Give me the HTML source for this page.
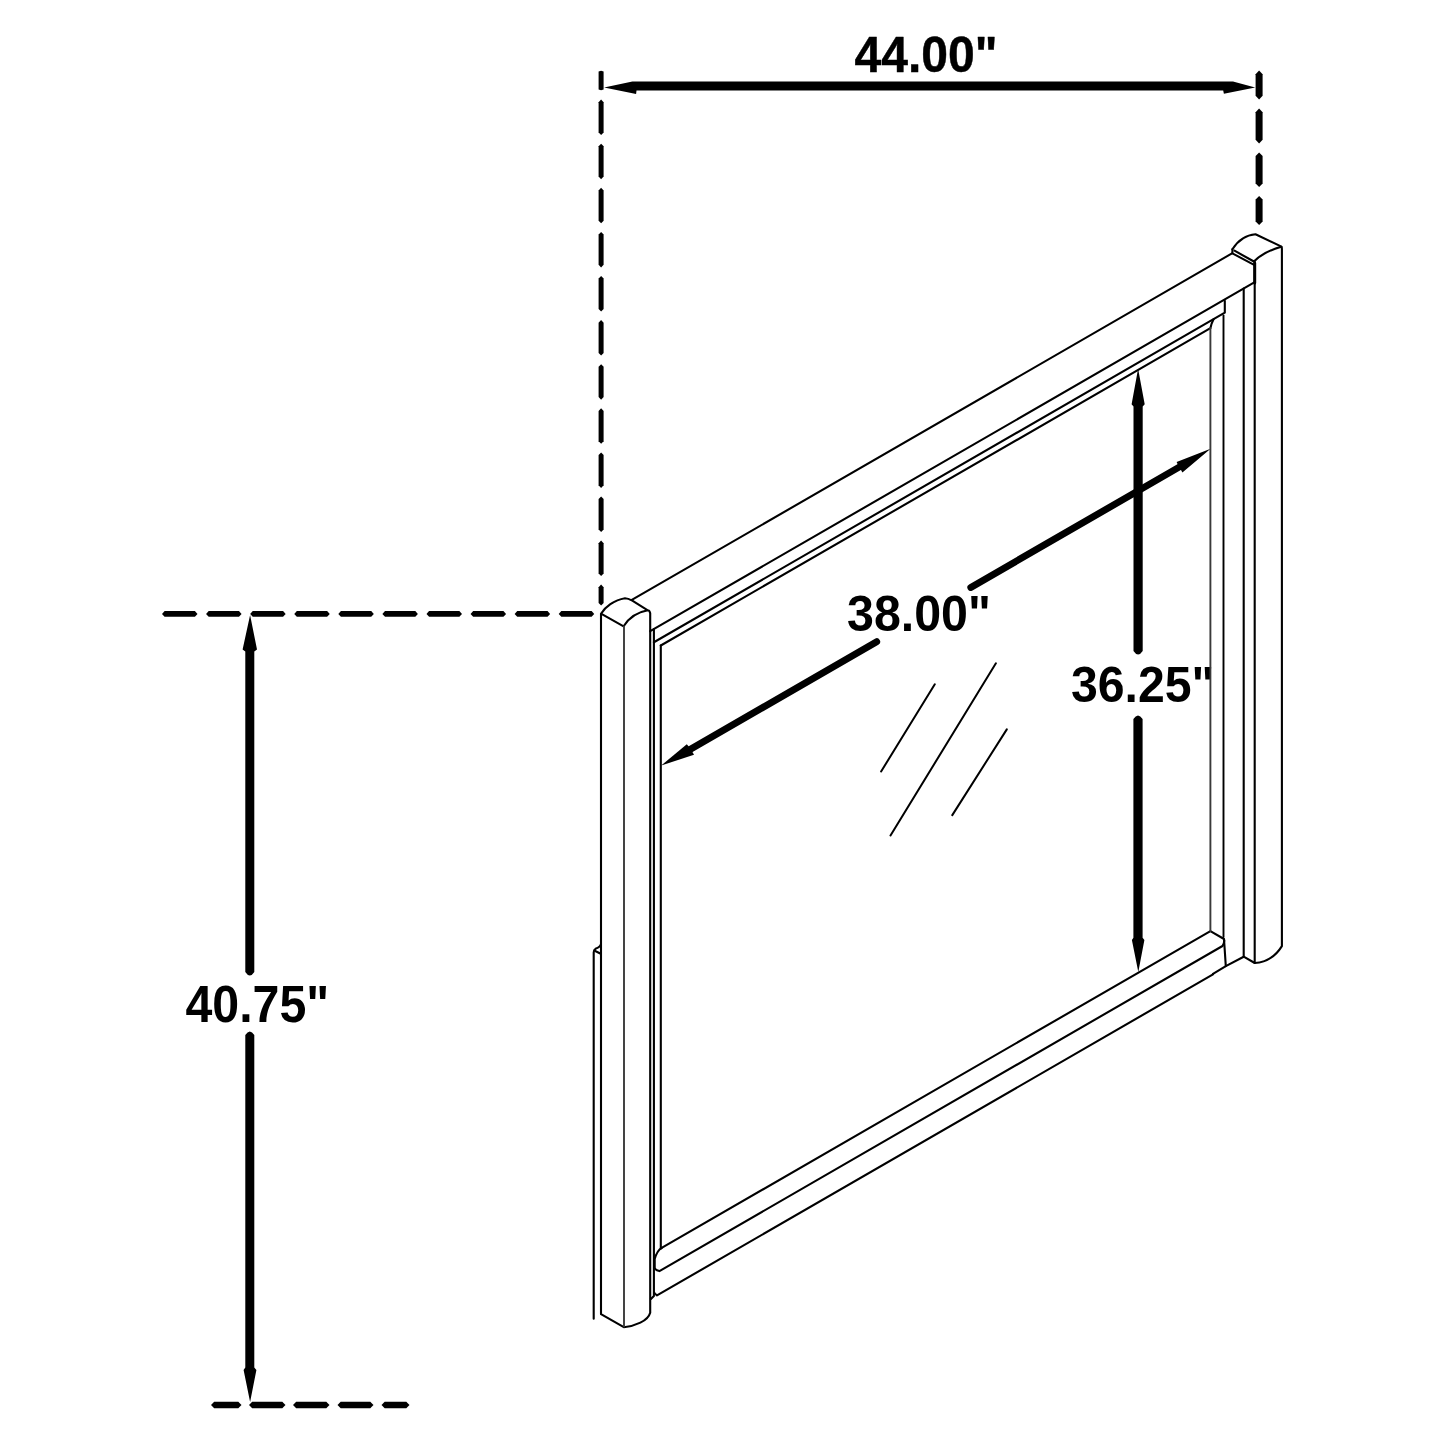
<!DOCTYPE html>
<html><head><meta charset="utf-8">
<style>
html,body{margin:0;padding:0;background:#fff;}
svg{display:block;}
text{font-family:"Liberation Sans",sans-serif;font-weight:bold;}
</style></head>
<body>
<svg width="1445" height="1445" viewBox="0 0 1445 1445">
<rect width="1445" height="1445" fill="#fff"/>
<g fill="#000">
<path d="M601.1,70.8 L603.6,71.6 L603.6,89.5 L601.1,90.3 L598.6,89.5 L598.6,71.6 Z"/>
<path d="M601.1,99.6 L603.6,102.2 L603.6,132.5 L601.1,135.1 L598.6,132.5 L598.6,102.2 Z"/>
<path d="M601.1,143.7 L603.6,146.3 L603.6,176.6 L601.1,179.2 L598.6,176.6 L598.6,146.3 Z"/>
<path d="M601.1,187.8 L603.6,190.4 L603.6,220.7 L601.1,223.3 L598.6,220.7 L598.6,190.4 Z"/>
<path d="M601.1,231.9 L603.6,234.5 L603.6,264.8 L601.1,267.4 L598.6,264.8 L598.6,234.5 Z"/>
<path d="M601.1,276 L603.6,278.6 L603.6,308.9 L601.1,311.5 L598.6,308.9 L598.6,278.6 Z"/>
<path d="M601.1,320.1 L603.6,322.7 L603.6,353 L601.1,355.6 L598.6,353 L598.6,322.7 Z"/>
<path d="M601.1,364.2 L603.6,366.8 L603.6,397.1 L601.1,399.7 L598.6,397.1 L598.6,366.8 Z"/>
<path d="M601.1,408.3 L603.6,410.9 L603.6,441.2 L601.1,443.8 L598.6,441.2 L598.6,410.9 Z"/>
<path d="M601.1,452.4 L603.6,455 L603.6,485.3 L601.1,487.9 L598.6,485.3 L598.6,455 Z"/>
<path d="M601.1,496.5 L603.6,499.1 L603.6,529.4 L601.1,532 L598.6,529.4 L598.6,499.1 Z"/>
<path d="M601.1,540.6 L603.6,543.2 L603.6,573.5 L601.1,576.1 L598.6,573.5 L598.6,543.2 Z"/>
<path d="M601.1,584.6 L603.6,587.2 L603.6,602.9 L601.1,605.5 L598.6,602.9 L598.6,587.2 Z"/>
<path d="M1259.1,70.6 L1262.6,74.2 L1262.6,95.8 L1259.1,99.4 L1255.6,95.8 L1255.6,74.2 Z"/>
<path d="M1259.1,108.6 L1262.6,112.2 L1262.6,139.8 L1259.1,143.4 L1255.6,139.8 L1255.6,112.2 Z"/>
<path d="M1259.1,152.4 L1262.6,156 L1262.6,183.4 L1259.1,187 L1255.6,183.4 L1255.6,156 Z"/>
<path d="M1259.1,196 L1262.6,199.6 L1262.6,221.5 L1259.1,225.1 L1255.6,221.5 L1255.6,199.6 Z"/>
<path d="M162,613.9 L164.6,611 L194.9,611 L197.5,613.9 L194.9,616.8 L164.6,616.8 Z"/>
<path d="M206.08,613.9 L208.68,611 L238.98,611 L241.58,613.9 L238.98,616.8 L208.68,616.8 Z"/>
<path d="M250.16,613.9 L252.76,611 L283.06,611 L285.66,613.9 L283.06,616.8 L252.76,616.8 Z"/>
<path d="M294.24,613.9 L296.84,611 L327.14,611 L329.74,613.9 L327.14,616.8 L296.84,616.8 Z"/>
<path d="M338.32,613.9 L340.92,611 L371.22,611 L373.82,613.9 L371.22,616.8 L340.92,616.8 Z"/>
<path d="M382.4,613.9 L385,611 L415.3,611 L417.9,613.9 L415.3,616.8 L385,616.8 Z"/>
<path d="M426.48,613.9 L429.08,611 L459.38,611 L461.98,613.9 L459.38,616.8 L429.08,616.8 Z"/>
<path d="M470.56,613.9 L473.16,611 L503.46,611 L506.06,613.9 L503.46,616.8 L473.16,616.8 Z"/>
<path d="M514.64,613.9 L517.24,611 L547.54,611 L550.14,613.9 L547.54,616.8 L517.24,616.8 Z"/>
<path d="M558.72,613.9 L561.32,611 L591.62,611 L594.22,613.9 L591.62,616.8 L561.32,616.8 Z"/>
<path d="M211,1405 L214.2,1401.7 L238.3,1401.7 L241.5,1405 L238.3,1408.3 L214.2,1408.3 Z"/>
<path d="M249,1405 L252.2,1401.7 L282.3,1401.7 L285.5,1405 L282.3,1408.3 L252.2,1408.3 Z"/>
<path d="M293,1405 L296.2,1401.7 L326.3,1401.7 L329.5,1405 L326.3,1408.3 L296.2,1408.3 Z"/>
<path d="M337.5,1405 L340.7,1401.7 L370.3,1401.7 L373.5,1405 L370.3,1408.3 L340.7,1408.3 Z"/>
<path d="M381.5,1405 L384.7,1401.7 L406.3,1401.7 L409.5,1405 L406.3,1408.3 L384.7,1408.3 Z"/>
</g>
<g fill="#000">
<path d="M604.1,87.6 L632.4,81.5 L1233,81.5 L1255.2,87.5 L1223.9,93.8 L1223.2,90.4 L636.5,90.4 L636.1,94.1 Z"/>
<path d="M250.1,615 L257,649.5 L254.3,651.5 L254.3,972 Q249.8,979 245.3,972 L245.3,651.5 L242.6,649.5 Z"/>
<path d="M250.1,1402 L256.4,1370 L254.3,1367.5 L254.3,1035 Q249.8,1028 245.3,1035 L245.3,1367.5 L243.6,1370 Z"/>
<path d="M1138.1,368.7 L1144.7,404.3 L1142.7,406.6 L1142.7,651 Q1138.1,658 1133.5,651 L1133.5,406.6 L1131.6,404.3 Z"/>
<path d="M1138.3,972 L1144.4,940 L1142.6,937.7 L1142.6,719 Q1138,712 1133.4,719 L1133.4,937.7 L1131.9,940 Z"/>
</g>
<g stroke="#000" stroke-width="6.9" stroke-linecap="round" fill="none">
<path d="M690,749.53 L876.7,641.74"/>
<path d="M970.8,587.41 L1180,466.63"/>
</g>
<g fill="#000">
<path d="M661.2,765.5 L686.8,744.3 L690,748 L693,753 L694,754.8 Z"/>
<path d="M1210.6,448.7 L1176.6,462 L1178,465 L1181,470 L1182.4,472.4 Z"/>
</g>
<g fill="#000" stroke="#000" stroke-width="0.45" stroke-linejoin="round">
<text font-size="50.2" transform="translate(854.5,72.1) scale(0.958,1)">44.00"</text>
<text stroke-width="0" font-size="50.2" transform="translate(847.0,631.0) scale(0.963,1)">38.00"</text>
<text stroke-width="0" font-size="50.3" transform="translate(1070.9,702.0) scale(0.958,1)">36.25"</text>
<text stroke-width="0" font-size="51.2" transform="translate(185.5,1022.1) scale(0.943,1)">40.75"</text>
</g>
<g stroke="#000" stroke-width="2.1" fill="none" stroke-linejoin="round" stroke-linecap="round">
<path d="M601.0,613.7 V1314.2 L623.8,1327.2 C635,1326 648,1321 650.2,1312.7 V613.3 Q649.6,610.4 647.8,610.3 L632.3,600.6 Q628,598.2 625,598.2 C614,600 605,607 601.0,613.7 L623.6,626.3 Q632,613 647.8,610.3"/>
<path d="M601,943.8 Q600.5,946.8 595.5,948.8 Q593.7,949.8 593.7,952.5 V1318.8"/>
<path d="M595.2,951 L600.8,953.8"/>
<path d="M1232.4,249.2 C1237,242 1245,235 1255.5,234.2 L1281.5,246.6 Q1281.9,247.5 1281.9,249 V946.1 Q1272,962 1254.7,963 L1243.7,956.7 L1225.8,966.1"/>
<path d="M1232.4,249.2 V253.4 L1253.6,264.6"/>
<path d="M1234.5,250.7 L1253.9,261.5 Q1263,252 1281.3,246.8"/>
<path d="M1254.7,261.5 V963"/>
<path d="M1254.7,263 V283" stroke-width="3"/>
<path d="M631.8,599.93 L1232.4,253.17"/>
<path d="M650.2,631.21 L1254.7,282.2"/>
<path d="M653.9,642.27 L1224.8,312.66 V300.9"/>
<path d="M660.8,645.49 L1210.4,328.18 Q1211.5,323 1213.7,319.07"/>
<path d="M653.9,629.07 V1296 L650.9,1299.1"/>
<path d="M1243.7,288.55 V956.7"/>
<path d="M660.8,645.49 V1248.39"/>
<path d="M660.8,1248.39 L1210.4,931.08 L1224,939 L1225.8,966.1 L1213,973.8"/>
<path d="M1213,974.37 L657,1295.38 Q654.5,1293.5 654.2,1292.5"/>
<path d="M1222.5,945.99 Q1224.5,943 1224.2,940 M1222.5,945.99 L659.4,1271.1 Q655,1270 654.7,1267.7 V1259 Q657,1250.5 661.8,1247.81"/>
<path d="M1223.5,315.5 V937" stroke-width="1.9"/>
</g>
<g stroke="#3a3a3a" stroke-width="1.9" fill="none" stroke-linecap="round">
<path d="M624.0,626.5 V1326.5"/>
<path d="M1210.4,328.18 V931.08"/>
</g>
<g stroke="#000" stroke-width="2" fill="none" stroke-linecap="round">
<path d="M934.8,684.3 L881.1,771.5"/>
<path d="M995.9,663.3 L890.5,835.5"/>
<path d="M1006.8,729.4 L952.3,815.1"/>
</g>
</svg>
</body></html>
